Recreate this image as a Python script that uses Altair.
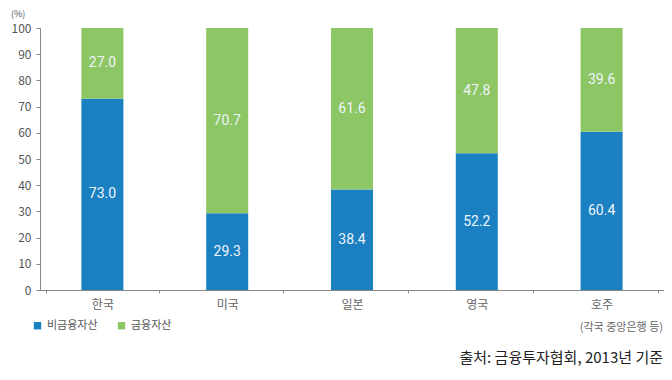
import altair as alt
import pandas as pd

countries = ["한국", "미국", "일본", "영국", "호주"]
non_fin = [73.0, 29.3, 38.4, 52.2, 60.4]
fin = [27.0, 70.7, 61.6, 47.8, 39.6]
series = ["비금융자산", "금융자산"]
colors = ["#1b80c2", "#8cc665"]
y_ticks = list(range(0, 101, 10))

rows = []
for c, a, b in zip(countries, non_fin, fin):
    rows.append({"국가": c, "구분": series[0], "값": a, "순서": 0, "mid": a / 2})
    rows.append({"국가": c, "구분": series[1], "값": b, "순서": 1, "mid": a + b / 2})
df = pd.DataFrame(rows)

FONT = "Noto Sans CJK KR"

x_axis = alt.Axis(labelAngle=0, tickBand="extent", labelFontSize=12,
                  labelColor="#666", labelFont=FONT, domainColor="#888",
                  tickColor="#888", tickSize=3, labelPadding=6)
y_axis = alt.Axis(values=y_ticks, grid=False, labelFontSize=12,
                  labelColor="#555", labelFont=FONT, domainColor="#888",
                  tickColor="#888", tickSize=4, labelPadding=5,
                  labelOverlap=False)
y_scale = alt.Scale(domain=[0, 100], nice=False)

base = alt.Chart(df)

bars = base.mark_bar(size=42).encode(
    x=alt.X("국가:N", sort=countries, title=None, axis=x_axis),
    y=alt.Y("값:Q", stack="zero", title=None, scale=y_scale, axis=y_axis),
    color=alt.Color("구분:N", sort=series,
                    scale=alt.Scale(domain=series, range=colors),
                    legend=alt.Legend(title=None, orient="none", legendX=-8, legendY=292,
                                      direction="horizontal", symbolType="square",
                                      symbolSize=55, labelFontSize=11, labelColor="#555",
                                      labelFont=FONT, columnPadding=18, symbolStrokeWidth=0)),
    order=alt.Order("순서:Q"),
)

labels = base.mark_text(color="#eef4fa", fontSize=14, font="Roboto").encode(
    x=alt.X("국가:N", sort=countries, title=None, axis=x_axis),
    y=alt.Y("mid:Q", title=None, scale=y_scale, axis=y_axis),
    text=alt.Text("값:Q", format=".1f"),
)

pct = alt.Chart(pd.DataFrame({"t": ["(%)"]})).mark_text(
    fontSize=9, color="#555", font=FONT, align="left").encode(
    text="t:N", x=alt.value(-29), y=alt.value(-14))

note = alt.Chart(pd.DataFrame({"t": ["(각국 중앙은행 등)"]})).mark_text(
    fontSize=11, color="#666", font=FONT, align="right").encode(
    text="t:N", x=alt.value(623), y=alt.value(300))

src = alt.Chart(pd.DataFrame({"t": ["출처: 금융투자협회, 2013년 기준"]})).mark_text(
    fontSize=15, color="#222", font=FONT, align="right").encode(
    text="t:N", x=alt.value(623), y=alt.value(330))

chart = alt.layer(bars, labels, pct, note, src).properties(
    width=624, height=262,
    autosize=alt.AutoSizeParams(type="none"),
    padding={"left": 32, "top": 20, "right": 0, "bottom": 82},
).configure(background="white").configure_view(stroke=None)

chart.save("out.html", embed_options={"renderer": "svg", "actions": False})
